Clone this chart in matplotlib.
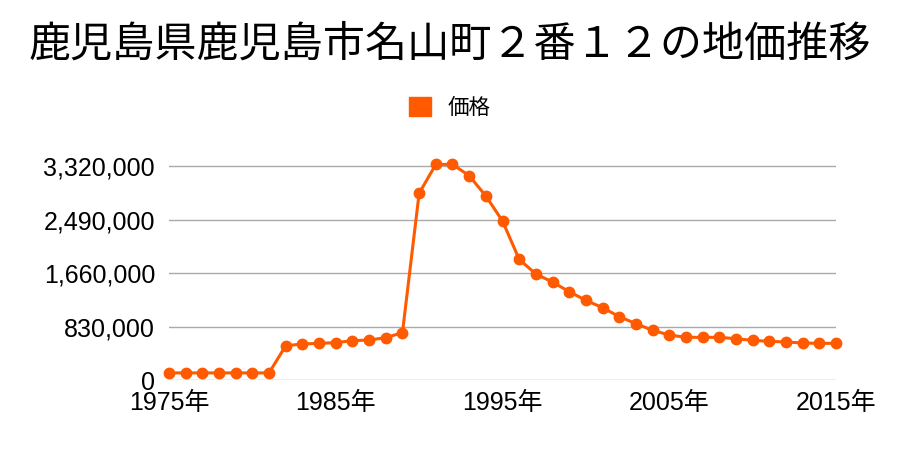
import matplotlib
matplotlib.use('Agg')
import matplotlib.pyplot as plt
from matplotlib.ticker import FuncFormatter
from matplotlib.patches import Patch

plt.rcParams['font.family'] = ['Noto Sans CJK JP', 'DejaVu Sans']
tick_font = ['Liberation Sans', 'Noto Sans CJK JP']

title = '鹿児島県鹿児島市名山町２番１２の地価推移'
series_name = '価格'
years = list(range(1975, 2016))
prices = [
    110000, 110000, 110000, 110000, 110000, 110000, 110000,
    532000, 558000, 569000, 579000, 610000, 620000, 657000, 735000,
    2896000, 3345000, 3345000, 3170000, 2855000, 2467000,
    1872000, 1644000, 1520000, 1370000, 1236000,
    1122000, 983000, 874000, 771000, 698000,
    662000, 662000, 662000, 641000, 615000,
    600000, 590000, 574000, 569000, 569000,
]
yticks = [0, 830000, 1660000, 2490000, 3320000]
xticks = [1975, 1985, 1995, 2005, 2015]

color = '#ff5a00'

fig = plt.figure(figsize=(9, 4.5), dpi=100)
ax = fig.add_axes([169 / 900, 70 / 450, (836 - 169) / 900, (380 - 160) / 450])

ax.plot(years, prices, color=color, lw=2.2, marker='o', ms=7.5,
        clip_on=False, zorder=3)

ax.set_xlim(1975, 2015)
ax.set_ylim(0, 3320000 * 220 / 214)
ax.set_yticks(yticks)
ax.set_xticks(xticks)
ax.yaxis.set_major_formatter(FuncFormatter(lambda v, p: f'{int(v):,}'))
ax.xaxis.set_major_formatter(FuncFormatter(lambda v, p: f'{int(v)}年'))
ax.grid(axis='y', color='#aaaaaa', lw=1)
ax.set_axisbelow(True)
for s in ax.spines.values():
    s.set_visible(False)
ax.tick_params(length=0, labelsize=18)
ax.tick_params(axis='y', pad=10)
ax.tick_params(axis='x', pad=8)
for lab in ax.get_xticklabels() + ax.get_yticklabels():
    lab.set_family(tick_font)

fig.suptitle(title, fontsize=30.3, y=1 - 45 / 450, va='center')
fig.legend(handles=[Patch(color=color, label=series_name)], loc='center',
           bbox_to_anchor=(0.5, 1 - 108 / 450), frameon=False,
           handlelength=1.0, handleheight=1.0, handletextpad=0.8,
           fontsize=15.5)

fig.savefig('out.png', dpi=100)
